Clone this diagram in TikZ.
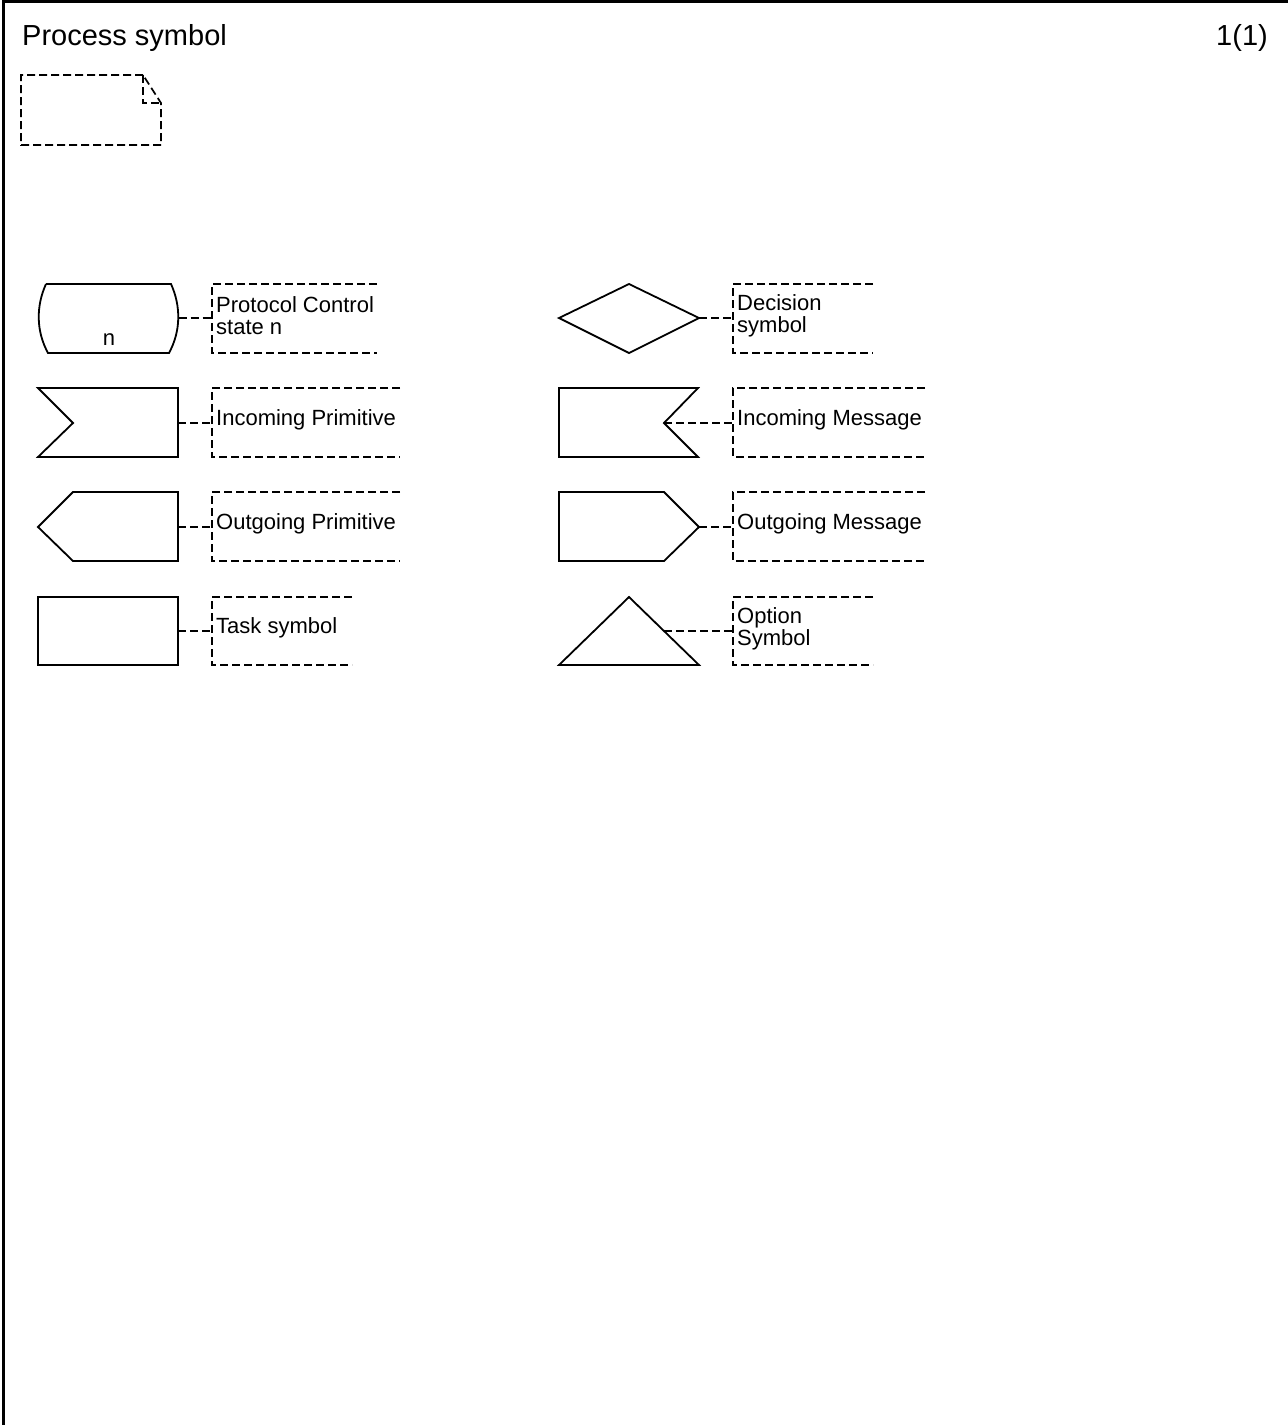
\documentclass[tikz,border=0pt]{standalone}
\usepackage{fontspec}
\setmainfont{Liberation Sans}
\begin{document}
\begin{tikzpicture}[x=1pt,y=-1pt,line join=miter,
  sym/.style={line width=1.8pt},
  cmt/.style={line width=1.7pt,dash pattern=on 8pt off 4pt},
  lbl/.style={anchor=west,inner sep=0pt,align=left,font=\fontsize{22}{22}\selectfont},
  big/.style={inner sep=0pt,font=\fontsize{29}{30}\selectfont}]
\useasboundingbox (0,0) rectangle (1288,1425);
% frame
\draw[line width=2.5pt] (3.5,1440) |- (1300,1.5);
\node[big,anchor=base west] (title) at (22,45) {Process symbol};
\node[big,anchor=base east] (page) at (1268,45) {1(1)};
% note symbol
\draw[cmt] (143,75) -- (21,75) -- (21,145) -- (161,145) -- (161,103) -- cycle;
\draw[cmt] (143,75) -- (143,103) -- (161,103);

% ---------- left column ----------
% state
\draw[sym] (46,284) -- (171,284) .. controls (181,306) and (181,331) .. (169,353)
  -- (48,353) .. controls (36,331) and (36,306) .. (46,284);
\node[inner sep=0pt,font=\fontsize{22}{22}\selectfont] (n) at (109,340) {n};
\coordinate (s1) at (178.5,318);
\coordinate (c1) at (212,318);
\draw[cmt] (377,284) -| (212,353) -- (377,353);
\draw[cmt] (s1) -- (c1);
\node[lbl] (t1) at (216,316) {Protocol Control\\state n};

% incoming primitive
\draw[sym] (38,388) -- (178,388) -- (178,457) -- (38,457) -- (73,423) -- cycle;
\coordinate (s2) at (178,423);
\coordinate (c2) at (212,423);
\draw[cmt] (400,388) -| (212,457) -- (400,457);
\draw[cmt] (s2) -- (c2);
\node[lbl] (t2) at (216,420) {Incoming Primitive};

% outgoing primitive
\draw[sym] (73,492) -- (178,492) -- (178,561) -- (73,561) -- (38,527) -- cycle;
\coordinate (s3) at (178,527);
\coordinate (c3) at (212,527);
\draw[cmt] (400,492) -| (212,561) -- (400,561);
\draw[cmt] (s3) -- (c3);
\node[lbl] (t3) at (216,524) {Outgoing Primitive};

% task
\draw[sym] (38,597) rectangle (178,665);
\coordinate (s4) at (178,631);
\coordinate (c4) at (212,631);
\draw[cmt] (352,597) -| (212,665) -- (352,665);
\draw[cmt] (s4) -- (c4);
\node[lbl] (t4) at (216,628) {Task symbol};

% ---------- right column ----------
% decision
\draw[sym] (559,318) -- (629,284) -- (699,318) -- (629,353) -- cycle;
\coordinate (s5) at (699,318);
\coordinate (c5) at (733,318);
\draw[cmt] (873,284) -| (733,353) -- (873,353);
\draw[cmt] (s5) -- (c5);
\node[lbl] (t5) at (737,316) {Decision\\symbol};

% incoming message
\draw[sym] (559,388) -- (698,388) -- (664,423) -- (698,457) -- (559,457) -- cycle;
\coordinate (s6) at (664,423);
\coordinate (c6) at (733,423);
\draw[cmt] (925,388) -| (733,457) -- (925,457);
\draw[cmt] (s6) -- (c6);
\node[lbl] (t6) at (737,420) {Incoming Message};

% outgoing message
\draw[sym] (559,492) -- (664,492) -- (699,527) -- (664,561) -- (559,561) -- cycle;
\coordinate (s7) at (699,527);
\coordinate (c7) at (733,527);
\draw[cmt] (925,492) -| (733,561) -- (925,561);
\draw[cmt] (s7) -- (c7);
\node[lbl] (t7) at (737,524) {Outgoing Message};

% option
\draw[sym] (559,665) -- (629,597) -- (699,665) -- cycle;
\coordinate (s8) at (664,631);
\coordinate (c8) at (733,631);
\draw[cmt] (873,597) -| (733,665) -- (873,665);
\draw[cmt] (s8) -- (c8);
\node[lbl] (t8) at (737,629) {Option\\Symbol};
\end{tikzpicture}
\end{document}
